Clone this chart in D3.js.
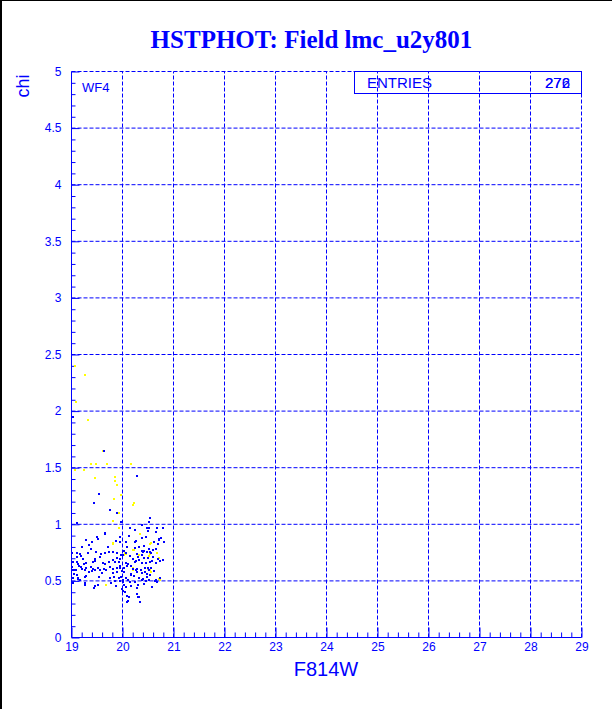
<!DOCTYPE html>
<html><head><meta charset="utf-8">
<script src="https://cdn.jsdelivr.net/npm/d3@7"></script>
<style>body{margin:0;background:#fff}svg{display:block}</style>
</head><body>
<script>
const title = "HSTPHOT: Field lmc_u2y801";
const xLabel = "F814W";
const yLabel = "chi";
const panelLabel = "WF4";
const statName = "ENTRIES";
const statValues = ["272", "276"];
const xTicks = [19,20,21,22,23,24,25,26,27,28,29];
const yTicks = [0,0.5,1,1.5,2,2.5,3,3.5,4,4.5,5];
const yTickLabels = ["0","0.5","1","1.5","2","2.5","3","3.5","4","4.5","5"];

// blue points: [F814W, chi]
const bluePoints = [
[19.03,1.95],[19.64,1.65],[20.29,1.43],
[19.54,1.27],[19.44,1.19],[19.76,1.13],[19.90,1.10],[20.54,1.06],[20.51,1.02],[19.11,1.01],[19.97,1.02],[20.39,0.99],[20.48,0.97],[20.52,0.97],[20.67,0.97],[20.80,0.97],[20.25,0.95],[20.50,0.94],[20.14,0.97],[20.65,0.93],[19.65,0.91],[19.66,0.92],
[19.50,0.89],[19.52,0.87],[20.12,0.90],[20.38,0.88],[20.71,0.86],[20.76,0.88],[20.06,0.84],[20.25,0.84],[20.81,0.84],[20.61,0.84],[19.29,0.86],[19.35,0.82],[19.87,0.85],[19.96,0.89],[20.26,0.85],[20.47,0.89],[20.72,0.87],[19.41,0.845],[19.95,0.84],[20.43,0.81],[20.70,0.83],
[19.20,0.80],[19.39,0.78],[19.71,0.80],[20.08,0.80],[20.24,0.79],[20.33,0.80],[20.52,0.78],[20.60,0.77],[20.66,0.78],[20.43,0.76],[20.39,0.76],
[19.11,0.75],[19.17,0.74],[19.32,0.745],[19.49,0.754],[19.575,0.739],[19.653,0.748],[19.738,0.754],[19.81,0.754],[19.889,0.745],[20.026,0.768],[20.078,0.745],[20.006,0.733],[20.287,0.739],[20.405,0.754],[20.49,0.757],[20.536,0.757],[20.562,0.745],[20.379,0.733],
[19.183,0.716],[19.222,0.695],[19.47,0.695],[19.568,0.71],[19.823,0.686],[19.895,0.704],[19.947,0.695],[19.98,0.727],[20.15,0.724],[20.215,0.695],[20.261,0.68],[20.32,0.686],[20.418,0.701],[20.503,0.704],[20.594,0.71],[20.699,0.695],[20.791,0.686],[20.313,0.71],
[19.104,0.671],[19.124,0.651],[19.15,0.636],[19.242,0.645],[19.287,0.657],[19.418,0.663],[19.464,0.68],[19.614,0.657],[19.666,0.651],[19.745,0.665],[19.849,0.665],[19.934,0.665],[19.96,0.636],[20.059,0.657],[20.111,0.645],[20.17,0.633],[20.248,0.668],[20.385,0.657],[20.451,0.657],[20.536,0.665],[20.588,0.68],[20.666,0.657],[20.738,0.674],
[19.006,0.627],[19.189,0.627],[19.294,0.615],[19.385,0.627],[19.431,0.607],[19.516,0.615],[19.568,0.592],[19.634,0.607],[19.751,0.627],[19.817,0.604],[19.895,0.615],[19.96,0.615],[20.026,0.61],[20.091,0.633],[20.209,0.604],[20.287,0.607],[20.366,0.598],[20.438,0.61],[20.496,0.615],[20.562,0.615],
[19.032,0.592],[19.098,0.592],[19.215,0.607],[19.268,0.592],[19.346,0.577],[19.405,0.586],[19.464,0.592],[19.594,0.568],[19.673,0.592],[19.817,0.568],[19.895,0.577],[19.993,0.586],[20.039,0.577],[20.157,0.562],[20.261,0.592],[20.294,0.577],[20.385,0.568],[20.438,0.583],[20.483,0.562],[20.523,0.592],[20.621,0.586],
[19.045,0.557],[19.137,0.527],[19.157,0.509],[19.255,0.533],[19.294,0.539],[19.549,0.533],[19.758,0.527],[19.83,0.533],[19.941,0.524],[19.98,0.533],[20.019,0.504],[20.065,0.527],[20.104,0.509],[20.163,0.548],[20.235,0.539],[20.32,0.527],[20.405,0.518],[20.483,0.533],[20.549,0.548],[20.66,0.512],[20.745,0.527],
[19.032,0.48],[19.274,0.468],[19.451,0.451],[19.516,0.468],[19.784,0.48],[19.856,0.498],[19.882,0.456],[19.96,0.498],[20.006,0.489],[20.026,0.468],[20.065,0.445],[20.143,0.486],[20.176,0.453],[20.242,0.486],[20.30,0.468],[20.287,0.439],[20.379,0.504],[20.418,0.474],[20.451,0.498],[20.516,0.504],[20.581,0.445],[20.647,0.498],[20.00,0.415],[20.052,0.40],[20.124,0.356],[20.287,0.386],[20.30,0.356],[20.34,0.312],[20.104,0.321],[20.09,0.37],[20.32,0.36],[20.08,0.31],[19.99,0.43],[19.44,0.44],[19.27,0.48],[20.58,0.45],[20.68,0.49],
[19.01,0.75],[19.03,0.67],[19.05,0.60],[19.11,0.55],[19.12,0.52],[19.02,0.53],[19.11,0.71]
];

// yellow points: [F814W, chi]
const yellowPoints = [
[19.06,2.40],[19.27,2.32],[19.09,2.08],[19.33,1.92],[19.61,1.65],[19.39,1.53],[19.49,1.53],[19.70,1.53],[20.16,1.53],[19.07,1.48],[19.25,1.48],[19.46,1.41],[19.85,1.42],[19.86,1.38],[19.90,1.35],[19.97,1.26],[19.84,1.22],[20.23,1.19],[20.21,1.17],[19.94,1.10],[19.82,1.03],[19.93,0.97],[20.35,0.91],[20.54,0.83],[19.82,0.83],[19.817,0.839],[20.327,0.733],[20.523,0.718],[20.673,0.745],[20.725,0.704],[20.059,0.739],[20.202,0.774],[20.536,0.598],[20.327,0.527],[20.712,0.518],[19.686,0.468],[20.03,0.73],[20.05,0.75],[20.22,0.77],[20.32,0.80],[20.54,0.74],[20.20,0.60],[20.55,0.58],[20.73,0.51],[20.209,0.61],[20.496,0.604],[20.562,0.839],[20.536,0.827]
];

const W = 612, H = 709;
const BLUE = "#0000ff", YEL = "#ffff00";
const svg = d3.select("body").append("svg").attr("width", W).attr("height", H);
svg.append("rect").attr("width", W).attr("height", H).attr("fill", "#fff");
// outer black frame (left & top)
svg.append("rect").attr("x",0).attr("y",0).attr("width",2).attr("height",H).attr("fill","#000");
svg.append("rect").attr("x",0).attr("y",0).attr("width",W).attr("height",1).attr("fill","#000");

const x = d3.scaleLinear().domain([19, 29]).range([71.5, 581.5]);
const y = d3.scaleLinear().domain([0, 5]).range([637.5, 71.5]);

// grid
const g = svg.append("g");
g.selectAll("line.gx").data(xTicks.slice(1)).join("line")
  .attr("x1", d => x(d)).attr("x2", d => x(d)).attr("y1", y(0)).attr("y2", y(5))
  .attr("stroke", BLUE).attr("stroke-dasharray", "4,2");
g.selectAll("line.gy").data(yTicks.slice(1)).join("line")
  .attr("y1", d => y(d)).attr("y2", d => y(d)).attr("x1", x(19)).attr("x2", x(29))
  .attr("stroke", BLUE).attr("stroke-dasharray", "4,2");

// axes
const minorX = d3.range(0, 51).map(i => 19 + i * 0.2).filter(v => Math.abs(v - Math.round(v)) > 1e-6);
const minorY = d3.range(0, 51).map(i => i * 0.1).filter(v => Math.abs(v*2 - Math.round(v*2)) > 1e-6);

const axB = svg.append("g").attr("transform", `translate(0,${y(0)})`);
axB.call(d3.axisBottom(x).tickValues(xTicks).tickSize(-10).tickPadding(5).tickFormat(d3.format("d")));
const axBm = svg.append("g").attr("transform", `translate(0,${y(0)})`);
axBm.call(d3.axisBottom(x).tickValues(minorX).tickSize(-5).tickFormat(""));
const axL = svg.append("g").attr("transform", `translate(${x(19)},0)`);
axL.call(d3.axisLeft(y).tickValues(yTicks).tickSize(-8).tickPadding(10).tickFormat((d,i) => yTickLabels[i]));
const axLm = svg.append("g").attr("transform", `translate(${x(19)},0)`);
axLm.call(d3.axisLeft(y).tickValues(minorY).tickSize(-4).tickFormat(""));
svg.selectAll(".domain").attr("stroke", BLUE).attr("d", null);
axB.select(".domain").remove(); axBm.select(".domain").remove();
axL.select(".domain").remove(); axLm.select(".domain").remove();
svg.append("line").attr("x1", x(19)).attr("x2", x(29)).attr("y1", y(0)).attr("y2", y(0)).attr("stroke", BLUE);
svg.append("line").attr("x1", x(19)).attr("x2", x(19)).attr("y1", y(0)).attr("y2", y(5)).attr("stroke", BLUE);
svg.selectAll(".tick line").attr("stroke", BLUE);
svg.selectAll(".tick text").attr("fill", BLUE).style("font-family", "'Liberation Sans', Arial, sans-serif").style("font-size", "12px");

// points
svg.append("g").selectAll("rect").data(yellowPoints).join("rect")
  .attr("x", d => Math.round(x(d[0])) - 1).attr("y", d => Math.round(y(d[1])) - 1)
  .attr("width", 2).attr("height", 2).attr("fill", YEL);
svg.append("g").selectAll("rect").data(bluePoints).join("rect")
  .attr("x", d => Math.round(x(d[0])) - 1).attr("y", d => Math.round(y(d[1])) - 1)
  .attr("width", 2).attr("height", 2).attr("fill", BLUE);

// stats box
svg.append("rect").attr("x", 354.5).attr("y", 71.5).attr("width", 227).attr("height", 22)
  .attr("fill", "none").attr("stroke", BLUE);
svg.append("text").attr("x", 367).attr("y", 88).text(statName)
  .attr("fill", BLUE).style("font-family", "'Liberation Sans', Arial, sans-serif").style("font-size", "15px");
statValues.forEach(v => svg.append("text").attr("x", 570).attr("y", 88).attr("text-anchor", "end").text(v)
  .attr("fill", BLUE).style("font-family", "'Liberation Sans', Arial, sans-serif").style("font-size", "15px"));

// labels
svg.append("text").attr("x", 311.5).attr("y", 48).attr("text-anchor", "middle").text(title)
  .attr("fill", BLUE).style("font-family", "'Liberation Serif', 'Times New Roman', serif").style("font-weight", "bold").style("font-size", "25px");
svg.append("text").attr("x", 326).attr("y", 676).attr("text-anchor", "middle").text(xLabel)
  .attr("fill", BLUE).style("font-family", "'Liberation Sans', Arial, sans-serif").style("font-size", "20px");
svg.append("text").attr("transform", "translate(29,86) rotate(-90)").attr("text-anchor", "middle").text(yLabel)
  .attr("fill", BLUE).style("font-family", "'Liberation Sans', Arial, sans-serif").style("font-size", "18px");
svg.append("text").attr("x", 82).attr("y", 92).text(panelLabel)
  .attr("fill", BLUE).style("font-family", "'Liberation Sans', Arial, sans-serif").style("font-size", "13px");
</script>
</body></html>
